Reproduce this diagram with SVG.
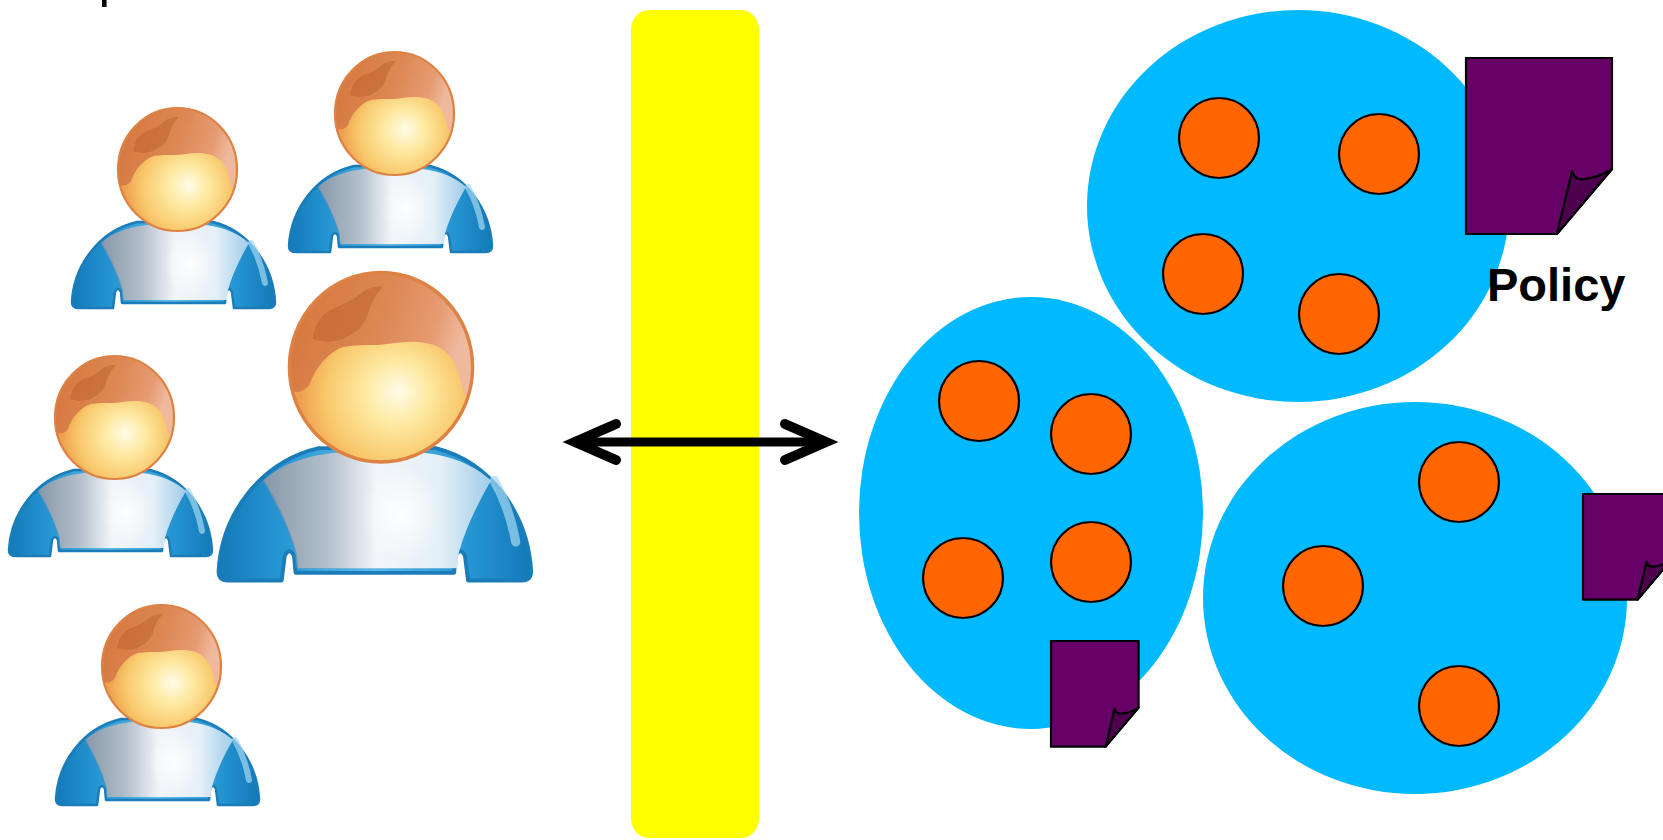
<svg xmlns="http://www.w3.org/2000/svg" xmlns:xlink="http://www.w3.org/1999/xlink" width="1663" height="840" viewBox="0 0 1663 840">
  <style>
    .cluster { fill: #00b9ff; }
    .member { fill: #ff6600; stroke: #000; stroke-width: 2.2; }
    .doc-body { fill: #660066; stroke: #000; stroke-width: 2.2; vector-effect: non-scaling-stroke; stroke-linejoin: miter; }
    .doc-flap { fill: #4e004e; stroke: #000; stroke-width: 2.2; vector-effect: non-scaling-stroke; stroke-linejoin: round; }
    .label { font-family: "Liberation Sans", Arial, sans-serif; font-weight: bold; font-size: 47px; fill: #000; }
    .title { font-family: "Liberation Sans", Arial, sans-serif; font-size: 52px; fill: #000; }
    .link { stroke: #000; stroke-width: 9; fill: none; }
  </style>
  <defs>
    <!-- person icon parts -->
    <radialGradient id="faceGrad" gradientUnits="userSpaceOnUse" cx="114" cy="82" r="60" fx="118" fy="78">
      <stop offset="0" stop-color="#fffce8"/>
      <stop offset="0.35" stop-color="#fee9a0"/>
      <stop offset="0.75" stop-color="#f8c76a"/>
      <stop offset="1" stop-color="#eea04f"/>
    </radialGradient>
    <linearGradient id="hairGrad" x1="0" y1="0" x2="1" y2="0.2">
      <stop offset="0" stop-color="#d4763e"/>
      <stop offset="0.55" stop-color="#dd8752"/>
      <stop offset="0.85" stop-color="#e69b72"/>
      <stop offset="1" stop-color="#efb99d"/>
    </linearGradient>
    <linearGradient id="sleeveGrad" x1="0" y1="0" x2="1" y2="0">
      <stop offset="0" stop-color="#1479b8"/>
      <stop offset="0.2" stop-color="#2696d3"/>
      <stop offset="0.5" stop-color="#5fb9e6"/>
      <stop offset="0.8" stop-color="#2696d3"/>
      <stop offset="1" stop-color="#1479b8"/>
    </linearGradient>
    <linearGradient id="chestGrad" x1="0" y1="0" x2="1" y2="0">
      <stop offset="0" stop-color="#8797a8"/>
      <stop offset="0.28" stop-color="#b3bfcb"/>
      <stop offset="0.5" stop-color="#f2f6fa"/>
      <stop offset="0.78" stop-color="#e4eff7"/>
      <stop offset="1" stop-color="#9fcdea"/>
    </linearGradient>
    <radialGradient id="shine" cx="0.5" cy="0.5" r="0.5">
      <stop offset="0" stop-color="#ffffff" stop-opacity="0.9"/>
      <stop offset="1" stop-color="#ffffff" stop-opacity="0"/>
    </radialGradient>

    <g id="person">
      <!-- sweater -->
      <path d="M1,195 C3,158 28,124 66,115 L142,115 C178,124 202,158 204,195 Q204,201 198,201 L163,201 L161,185 Q158,179 155,185 L154,196 L51,196 L50,185 Q47,179 44,185 L42,201 L7,201 Q1,201 1,195 Z" fill="url(#sleeveGrad)" stroke="#1a7cb8" stroke-width="2.5" stroke-linejoin="round"/>
      <path d="M52,193 L51,183 C46,165 37,148 30,136 C42,125 58,120 76,118 L134,118 C154,120 168,127 178,136 C171,148 162,165 157,183 L156,193 Z" fill="url(#chestGrad)"/>
      <path d="M52,193 L51,183 C46,165 37,148 30,136" fill="none" stroke="#3d8fc4" stroke-width="1.5" opacity="0.6"/>
      <ellipse cx="120" cy="158" rx="26" ry="32" fill="url(#shine)"/>
      <path d="M180,136 Q190,154 194,176" stroke="#a4d8f1" stroke-width="6" stroke-linecap="round" fill="none" opacity="0.7"/>
      <!-- head: face, hair cap, darker streak, rim -->
      <ellipse cx="106.5" cy="62.5" rx="59.5" ry="61.5" fill="url(#faceGrad)"/>
      <path d="M48.9,78 A59.5,61.5 0 1 1 164.5,76 Q163,84 160,79 C158,70 156,60 150,54 C144,48 136,46 127,46 C118,46 110,48 104,48 C94,48 86,48 80,50 C72,54 64,62 60,74 Q55,80 48.9,78 Z" fill="url(#hairGrad)"/>
      <path d="M62,44 C64,34 67,28 76,24 C84,21 90,18 94,14 C98,11 102,10 108,10 C104,14 100,20 98,28 C96,36 90,40 82,44 C74,47 68,46 62,44 Z" fill="#bf6632" opacity="0.6"/>
      <ellipse cx="106.5" cy="62.5" rx="59.5" ry="61.5" fill="none" stroke="#de8244" stroke-width="2.2"/>
    </g>

    <!-- policy document with curled corner -->
    <g id="doc">
      <path class="doc-body" d="M0,0 H146 V111 L91,176 H0 Z"/>
      <path class="doc-flap" d="M91,176 L106,113 C108,120 112,122 118,121 C128,120 138,116 146,111 Z"/>
    </g>

    <marker id="chevron" markerUnits="userSpaceOnUse" viewBox="-70 -30 80 60" refX="-12" refY="0" markerWidth="80" markerHeight="60" orient="auto-start-reverse" overflow="visible">
      <path d="M-53,-18 L-12,0 L-53,18" fill="none" stroke="#000" stroke-width="10" stroke-linecap="round" stroke-linejoin="miter" stroke-miterlimit="10"/>
    </marker>
  </defs>

  <rect width="1663" height="840" fill="#ffffff"/>

  <!-- heading running off the top edge -->
  <text class="title" x="98.6" y="-3.8">p</text>

  <!-- users -->
  <g id="user-1"><use xlink:href="#person" transform="translate(71,107)"/></g>
  <g id="user-2"><use xlink:href="#person" transform="translate(288,51)"/></g>
  <g id="user-3"><use xlink:href="#person" transform="translate(217,271) scale(1.54)"/></g>
  <g id="user-4"><use xlink:href="#person" transform="translate(8,355)"/></g>
  <g id="user-5"><use xlink:href="#person" transform="translate(55,604)"/></g>

  <!-- boundary -->
  <g id="boundary">
    <rect x="631" y="10" width="128" height="828" rx="18" ry="20" fill="#ffff00"/>
  </g>

  <!-- clusters -->
  <g id="cluster-top">
    <ellipse class="cluster" cx="1298" cy="206" rx="211" ry="196"/>
    <circle class="member" cx="1219" cy="138" r="40"/>
    <circle class="member" cx="1379" cy="154" r="40"/>
    <circle class="member" cx="1203" cy="274" r="40"/>
    <circle class="member" cx="1339" cy="314" r="40"/>
    <use xlink:href="#doc" transform="translate(1466,58)"/>
    <text class="label" x="1487" y="301">Policy</text>
  </g>

  <g id="cluster-left">
    <ellipse class="cluster" cx="1031" cy="513" rx="172" ry="216"/>
    <circle class="member" cx="979" cy="401" r="40"/>
    <circle class="member" cx="1091" cy="434" r="40"/>
    <circle class="member" cx="963" cy="578" r="40"/>
    <circle class="member" cx="1091" cy="562" r="40"/>
    <use xlink:href="#doc" transform="translate(1051,641) scale(0.6)"/>
  </g>

  <g id="cluster-right">
    <ellipse class="cluster" cx="1415" cy="598" rx="212" ry="196"/>
    <circle class="member" cx="1459" cy="482" r="40"/>
    <circle class="member" cx="1323" cy="586" r="40"/>
    <circle class="member" cx="1459" cy="706" r="40"/>
    <use xlink:href="#doc" transform="translate(1583,494) scale(0.6)"/>
  </g>

  <!-- connectors -->
  <g id="connectors">
    <line class="link" x1="575" y1="442" x2="826" y2="442" marker-start="url(#chevron)" marker-end="url(#chevron)"/>
  </g>
</svg>
